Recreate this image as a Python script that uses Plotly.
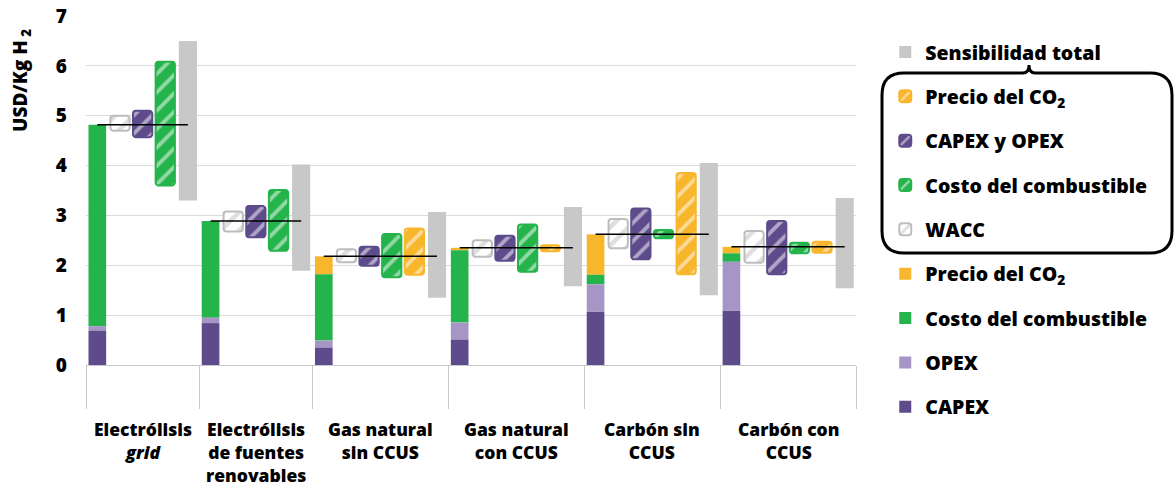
import numpy as np
import plotly.graph_objects as go

categories = ['Electrólisis<br><i>grid</i>', 'Electrólisis<br>de fuentes<br>renovables',
              'Gas natural<br>sin CCUS', 'Gas natural<br>con CCUS',
              'Carbón sin<br>CCUS', 'Carbón con<br>CCUS']

# stacked cost components (USD/Kg H2)
capex = [0.69, 0.84, 0.35, 0.51, 1.07, 1.09]
opex = [0.09, 0.11, 0.14, 0.34, 0.55, 0.98]
fuel = [4.04, 1.94, 1.33, 1.45, 0.19, 0.17]
co2 = [0.00, 0.00, 0.36, 0.05, 0.81, 0.13]

# sensitivity ranges (low / high)
wacc_lo = [4.70, 2.68, 2.06, 2.17, 2.34, 2.05]
wacc_hi = [5.00, 3.08, 2.32, 2.50, 2.93, 2.69]
capop_lo = [4.57, 2.56, 1.99, 2.09, 2.12, 1.82]
capop_hi = [5.10, 3.19, 2.37, 2.59, 3.14, 2.89]
fuel_lo = [3.60, 2.29, 1.76, 1.87, 2.54, 2.24]
fuel_hi = [6.08, 3.51, 2.63, 2.82, 2.71, 2.45]
co2_lo = [None, None, 1.81, 2.28, 1.82, 2.25]
co2_hi = [None, None, 2.74, 2.40, 3.85, 2.47]
total_lo = [3.30, 1.89, 1.35, 1.58, 1.40, 1.54]
total_hi = [6.50, 4.02, 3.07, 3.17, 4.05, 3.35]

C_CAPEX, C_OPEX, C_FUEL, C_CO2 = '#5E4B8B', '#A596C6', '#25B34B', '#F8B62D'
C_TOTAL, C_WACC = '#C8C8C8', '#BDBDBD'
FONT = 'Open Sans'
W = 800

# slot layout: stacked, WACC, CAPEX y OPEX, combustible, [CO2], total
slot = {'stack': [], 'wacc': [], 'capop': [], 'fuel': [], 'co2': [], 'total': []}
bounds, centers = [], []
s = 0
for i in range(len(categories)):
    n = 6 if co2_lo[i] is not None else 5
    bounds.append(s - 0.5)
    slot['stack'].append(s)
    slot['wacc'].append(s + 1)
    slot['capop'].append(s + 2)
    slot['fuel'].append(s + 3)
    slot['co2'].append(s + 4 if n == 6 else None)
    slot['total'].append(s + n - 1)
    centers.append(s + (n - 1) / 2)
    s += n
bounds.append(s - 0.5)

base_total = np.array(capex) + np.array(opex) + np.array(fuel) + np.array(co2)

fig = go.Figure()


def floating(name, key, lo, hi, color, pattern=None, width=0.85):
    xs = [x for x, l in zip(slot[key], lo) if l is not None]
    los = [l for l in lo if l is not None]
    his = [h for h in hi if h is not None]
    if pattern:
        marker = dict(color=color, cornerradius=3, line=dict(color=color, width=2),
                      pattern=pattern)
    else:
        marker = dict(color=color, line=dict(width=0))
    fig.add_trace(go.Bar(x=xs, y=np.array(his) - np.array(los), base=los, name=name,
                         marker=marker, width=width, legendgroup=name + key))


hatch = dict(shape='/', fgcolor='white', size=13, solidity=0.3)
floating('Sensibilidad total', 'total', total_lo, total_hi, C_TOTAL, width=0.8)
floating('Precio del CO<sub>2</sub>', 'co2', co2_lo, co2_hi, C_CO2, hatch)
floating('CAPEX y OPEX', 'capop', capop_lo, capop_hi, C_CAPEX, hatch)
floating('Costo del combustible', 'fuel', fuel_lo, fuel_hi, C_FUEL, hatch)
floating('WACC', 'wacc', wacc_lo, wacc_hi, C_WACC,
         dict(shape='/', fgcolor=C_WACC, bgcolor='white', size=13, solidity=0.35))

# stacked bars
parts = [('CAPEX', capex, C_CAPEX), ('OPEX', opex, C_OPEX),
         ('Costo del combustible', fuel, C_FUEL), ('Precio del CO<sub>2</sub>', co2, C_CO2)]
cum = np.zeros(len(categories))
stack_traces = []
for name, vals, color in parts:
    stack_traces.append(go.Bar(x=slot['stack'], y=vals, base=cum.copy(), name=name,
                               marker=dict(color=color, line=dict(width=0)), width=0.78,
                               legendgroup=name + 'stack'))
    cum += np.array(vals)
for tr in reversed(stack_traces):
    fig.add_trace(tr)

# reference line from stacked bar to total sensitivity bar
lx, ly = [], []
for i in range(len(categories)):
    lx += [slot['stack'][i], slot['total'][i], None]
    ly += [base_total[i], base_total[i], None]
fig.add_trace(go.Scatter(x=lx, y=ly, mode='lines', line=dict(color='black', width=1.5),
                         showlegend=False, hoverinfo='skip'))

# category labels
for c, txt in zip(centers, categories):
    fig.add_annotation(x=c, xref='x', y=0, yref='paper', yanchor='top', yshift=-50,
                       text=txt, showarrow=False, align='center',
                       font=dict(family=FONT, size=17.5, color='black', weight=W))

fig.add_annotation(x=-0.0844, xref='paper', y=0.814, yref='paper', textangle=-90,
                   xanchor='center', yanchor='middle',
                   text='USD/Kg H<sub> 2</sub>', showarrow=False,
                   font=dict(family=FONT, size=19, color='black', weight=W))

# rounded box around the sensitivity legend entries (pixel sizes, anchored at plot bottom-left)
L, R, T, B, r = 796, 1086, 292, 112, 22
mx = 943
box = (f'M {L + r},{T} L {mx - 6},{T} Q {mx},{T} {mx},{T + 8} Q {mx},{T} {mx + 6},{T} '
       f'L {R - r},{T} Q {R},{T} {R},{T - r} L {R},{B + r} Q {R},{B} {R - r},{B} '
       f'L {L + r},{B} Q {L},{B} {L},{B + r} L {L},{T - r} Q {L},{T} {L + r},{T} Z')
fig.add_shape(type='path', path=box, xref='paper', yref='paper', xsizemode='pixel',
              ysizemode='pixel', xanchor=0, yanchor=0, line=dict(color='black', width=3))

fig.update_layout(
    barmode='overlay',
    width=1176, height=492,
    margin=dict(l=86, r=320, t=16, b=127, autoexpand=False),
    paper_bgcolor='white', plot_bgcolor='white',
    font=dict(family=FONT, color='black'),
    showlegend=True,
    legend=dict(x=1.038, xanchor='left', y=0.952, yanchor='top', traceorder='grouped',
                tracegroupgap=16, maxheight=476,
                font=dict(family=FONT, size=19.5, color='black', weight=W),
                bgcolor='rgba(0,0,0,0)'),
    hovermode=False,
)
fig.update_xaxes(range=[-0.5, s - 0.5], tickmode='array', tickvals=bounds, ticktext=['' for _ in bounds],
                 ticks='outside', ticklen=43, tickcolor='#C8C8C8', tickwidth=1,
                 showgrid=False, zeroline=False, showline=True, linecolor='#C8C8C8', linewidth=1)
fig.update_yaxes(range=[0, 7], dtick=1, showgrid=True, gridcolor='#DCDCDC', zeroline=False,
                 ticks='', ticklabelstandoff=18,
                 tickfont=dict(family=FONT, size=19, color='black', weight=W))

fig.write_html('out.html', config={'displayModeBar': False},
               post_script="document.body.style.margin='0';")
